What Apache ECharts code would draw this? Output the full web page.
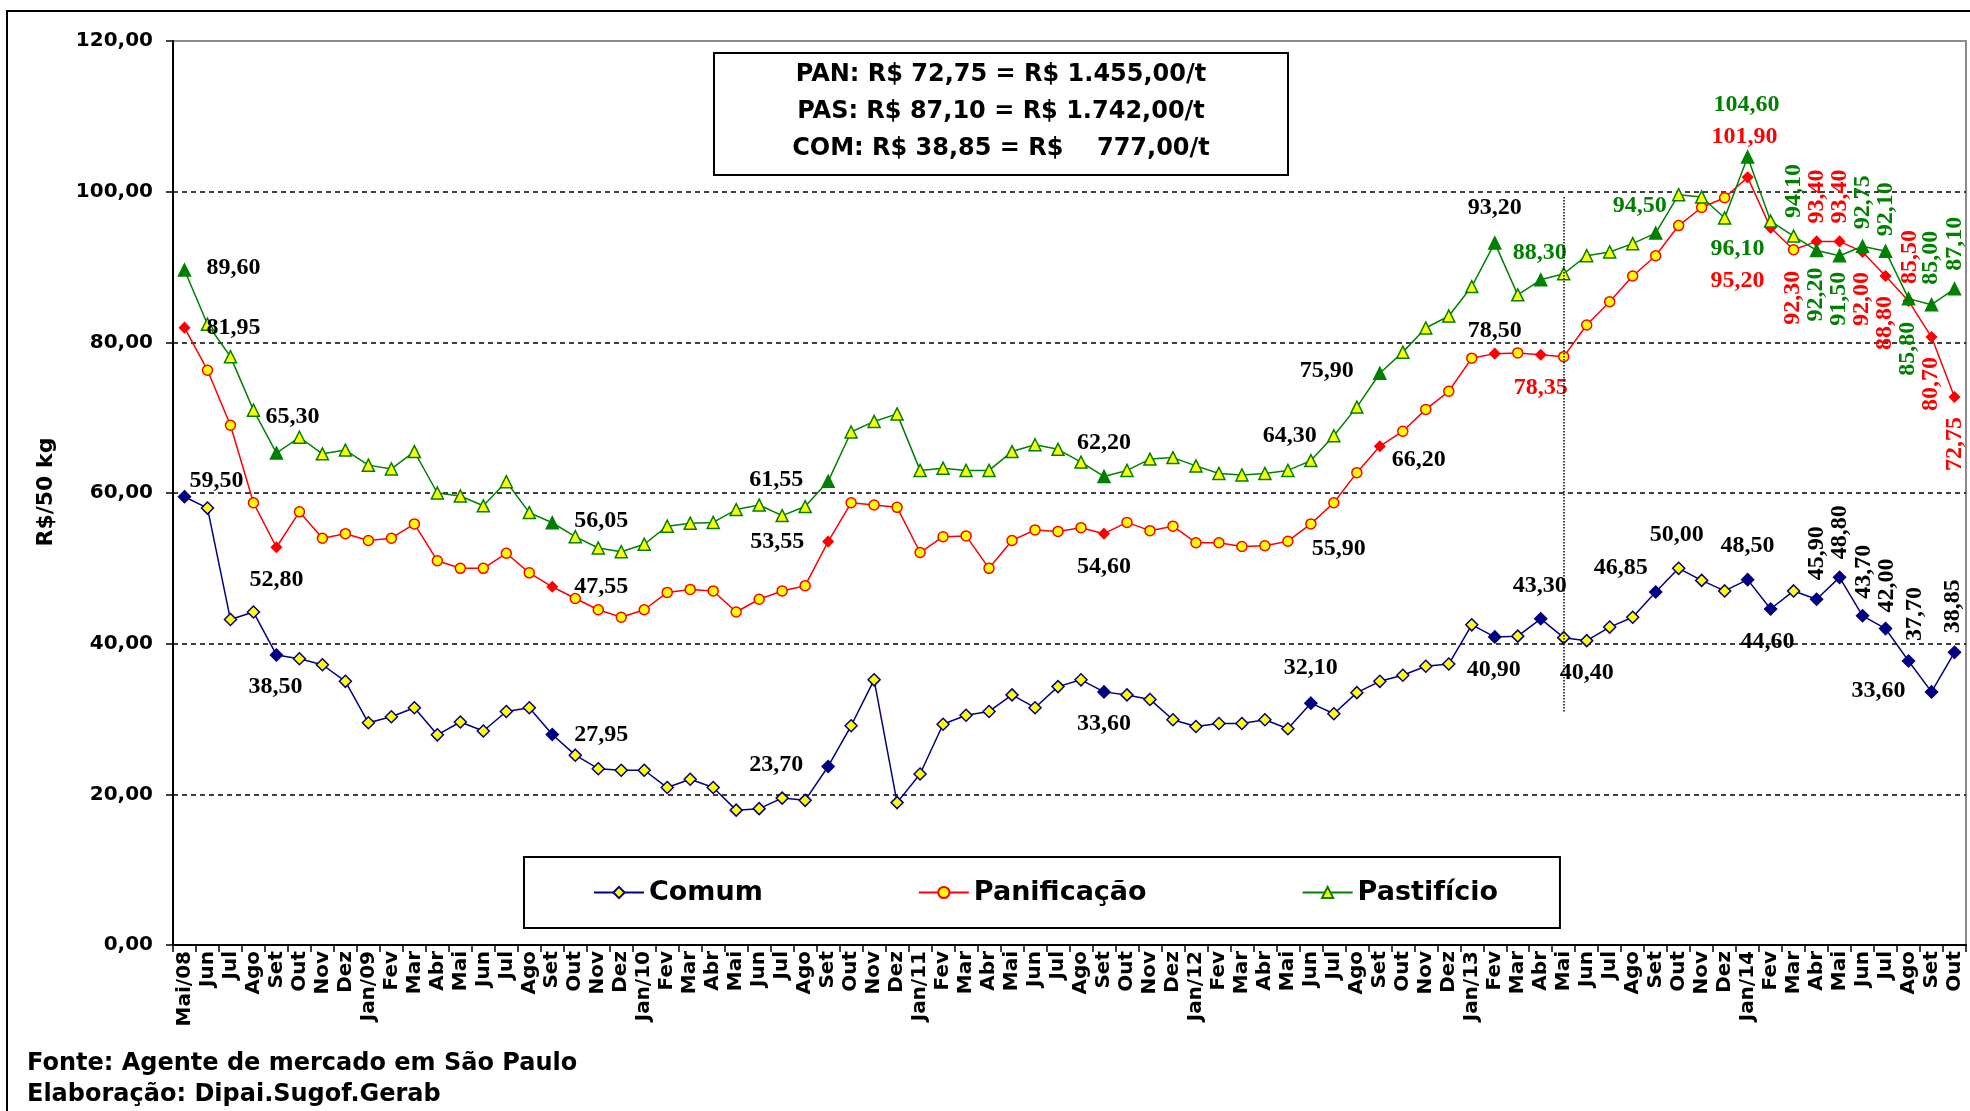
<!DOCTYPE html>
<html>
<head>
<meta charset="utf-8">
<title>Preços do trigo - São Paulo</title>
<script src="https://cdn.jsdelivr.net/npm/echarts@6/dist/echarts.min.js"></script>
<style>
  html, body { margin: 0; padding: 0; background: #ffffff; }
  #chart { width: 1970px; height: 1111px; }
</style>
</head>
<body>
<div id="chart"></div>
<script>
// eixo x: meses de Mai/08 a Out/14
const meses = [
  'Mai/08', 'Jun', 'Jul', 'Ago', 'Set', 'Out', 'Nov', 'Dez',
  'Jan/09', 'Fev', 'Mar', 'Abr', 'Mai', 'Jun', 'Jul', 'Ago', 'Set', 'Out', 'Nov', 'Dez',
  'Jan/10', 'Fev', 'Mar', 'Abr', 'Mai', 'Jun', 'Jul', 'Ago', 'Set', 'Out', 'Nov', 'Dez',
  'Jan/11', 'Fev', 'Mar', 'Abr', 'Mai', 'Jun', 'Jul', 'Ago', 'Set', 'Out', 'Nov', 'Dez',
  'Jan/12', 'Fev', 'Mar', 'Abr', 'Mai', 'Jun', 'Jul', 'Ago', 'Set', 'Out', 'Nov', 'Dez',
  'Jan/13', 'Fev', 'Mar', 'Abr', 'Mai', 'Jun', 'Jul', 'Ago', 'Set', 'Out', 'Nov', 'Dez',
  'Jan/14', 'Fev', 'Mar', 'Abr', 'Mai', 'Jun', 'Jul', 'Ago', 'Set', 'Out'
];

// R$/50 kg
const comum = [
  59.50, 58.00, 43.20, 44.20, 38.50, 38.00, 37.20, 35.00,
  29.50, 30.30, 31.50, 27.90, 29.60, 28.40, 31.00, 31.50, 27.95, 25.20, 23.40, 23.20,
  23.20, 20.90, 22.00, 20.90, 17.90, 18.10, 19.50, 19.20, 23.70, 29.10, 35.20, 18.90,
  22.70, 29.30, 30.50, 31.00, 33.20, 31.50, 34.30, 35.20, 33.60, 33.20, 32.60, 29.90,
  29.00, 29.40, 29.40, 29.90, 28.70, 32.10, 30.70, 33.50, 35.00, 35.80, 37.00, 37.30,
  42.50, 40.90, 41.00, 43.30, 40.80, 40.40, 42.20, 43.50, 46.85, 50.00, 48.40, 47.00,
  48.50, 44.60, 47.00, 45.90, 48.80, 43.70, 42.00, 37.70, 33.60, 38.85
];
const panificacao = [
  81.95, 76.30, 69.00, 58.70, 52.80, 57.50, 54.00, 54.60,
  53.70, 54.00, 55.90, 51.00, 50.00, 50.00, 52.00, 49.40, 47.55, 46.00, 44.50, 43.50,
  44.50, 46.80, 47.20, 47.00, 44.20, 45.90, 47.00, 47.70, 53.55, 58.70, 58.40, 58.10,
  52.10, 54.20, 54.30, 50.00, 53.70, 55.10, 54.90, 55.40, 54.60, 56.10, 55.00, 55.60,
  53.40, 53.40, 52.90, 53.00, 53.60, 55.90, 58.70, 62.70, 66.20, 68.20, 71.10, 73.50,
  77.90, 78.50, 78.60, 78.35, 78.10, 82.30, 85.40, 88.80, 91.50, 95.50, 97.90, 99.20,
  101.90, 95.20, 92.30, 93.40, 93.40, 92.00, 88.80, 85.50, 80.70, 72.75
];
const pastificio = [
  89.60, 82.40, 78.10, 71.00, 65.30, 67.40, 65.20, 65.70,
  63.70, 63.20, 65.50, 60.00, 59.60, 58.30, 61.50, 57.40, 56.05, 54.20, 52.70, 52.20,
  53.20, 55.60, 56.00, 56.10, 57.80, 58.40, 57.00, 58.20, 61.55, 68.10, 69.50, 70.50,
  63.00, 63.30, 63.00, 63.00, 65.50, 66.40, 65.80, 64.10, 62.20, 63.00, 64.50, 64.70,
  63.60, 62.60, 62.40, 62.60, 63.00, 64.30, 67.60, 71.40, 75.90, 78.70, 81.90, 83.50,
  87.40, 93.20, 86.30, 88.30, 89.10, 91.50, 92.00, 93.10, 94.50, 99.60, 99.30, 96.50,
  104.60, 96.10, 94.10, 92.20, 91.50, 92.75, 92.10, 85.80, 85.00, 87.10
];

const yTicks = [0, 20, 40, 60, 80, 100, 120];

// pontos em destaque (marcador cheio)
const destComum = [0, 4, 16, 28, 40, 49, 57, 59, 64, 68, 69, 71, 72, 73, 74, 75, 76, 77];
const destPan = [0, 4, 16, 28, 40, 52, 57, 59, 68, 69, 71, 72, 73, 74, 75, 76, 77];
const destPas = [0, 4, 16, 28, 40, 52, 57, 59, 64, 68, 71, 72, 73, 74, 75, 76, 77];

// rótulos: índice -> [dx, dy, rotação, cor]  (deslocamento do centro do texto)
const PRETO = '#000000', VERMELHO = '#ff0000', VERDE = '#008000';
const rotComum = {
  0: [32, -16], 4: [-1, 32], 16: [49, 0], 28: [-52, -2], 40: [0, 32], 49: [0, -35],
  57: [-1, 33], 59: [-1, -33], 61: [0, 32], 64: [-35, -24], 65: [-2, -34], 68: [0, -34],
  69: [-3, 33], 71: [0, -46, 90], 72: [0, -45, 90], 73: [1, -44, 90], 74: [1, -43, 90],
  75: [6, -47, 90], 76: [-53, -1], 77: [-2, -46, 90]
};
const rotPan = {
  0: [49, 0], 4: [0, 33], 16: [49, 0], 28: [-51, 0], 40: [0, 33], 49: [28, 25],
  52: [39, 14], 57: [0, -23], 59: [0, 33, 0, VERMELHO], 68: [-3, -41, 0, VERMELHO],
  69: [-33, 53, 0, VERMELHO], 70: [-1, 48, 90, VERMELHO], 71: [0, -45, 90, VERMELHO],
  72: [0, -45, 90, VERMELHO], 73: [-1, 47, 90, VERMELHO], 74: [-1, 47, 90, VERMELHO],
  75: [1, -44, 90, VERMELHO], 76: [-1, 47, 90, VERMELHO], 77: [0, 47, 90, VERMELHO]
};
const rotPas = {
  0: [49, -2], 4: [16, -36], 16: [49, -2], 28: [-52, -2], 40: [0, -34], 49: [-21, -25],
  52: [-53, -2], 57: [0, -35], 59: [-1, -27, 0, VERDE], 64: [-16, -27, 0, VERDE],
  68: [-1, -52, 0, VERDE], 69: [-33, 28, 0, VERDE], 70: [0, -45, 90, VERDE],
  71: [-1, 44, 90, VERDE], 72: [-1, 43, 90, VERDE], 73: [0, -44, 90, VERDE],
  74: [0, -42, 90, VERDE], 75: [-1, 50, 90, VERDE], 76: [-1, -47, 90, VERDE],
  77: [0, -45, 90, VERDE]
};

const fmt = (v) => v.toFixed(2).replace('.', ',');

function montaPontos(valores, cor, simboloCheio, destaques, rotulos) {
  return valores.map((v, i) => {
    const item = { value: v };
    if (destaques.includes(i)) {
      item.symbol = simboloCheio;
      item.itemStyle = { color: cor };
    }
    const r = rotulos[i];
    if (r) {
      const rot = r[2] || 0;
      // com rotação o deslocamento gira junto, em torno do ponto
      const offset = rot === 90 ? [-r[1], r[0]] : [r[0], r[1]];
      item.label = {
        show: true,
        position: 'inside',
        offset: offset,
        rotate: rot,
        color: r[3] || PRETO
      };
    }
    return item;
  });
}

const labelBase = {
  show: false,
  fontFamily: 'Liberation Serif',
  fontWeight: 'bold',
  fontSize: 24,
  formatter: (p) => fmt(p.value)
};

const chart = echarts.init(document.getElementById('chart'));

chart.setOption({
  animation: false,
  backgroundColor: '#ffffff',
  grid: {
    left: 173, right: 4, top: 41, bottom: 166,
    show: true, borderColor: '#8c8c8c', borderWidth: 2, backgroundColor: '#ffffff'
  },
  legend: {
    left: 524, top: 857,
    padding: [22, 62, 22, 69],
    itemGap: 155, itemWidth: 50, itemHeight: 14,
    borderColor: '#000000', borderWidth: 2, backgroundColor: '#ffffff',
    textStyle: { fontFamily: 'DejaVu Sans', fontWeight: 'bold', fontSize: 27, color: '#000000' },
    data: ['Comum', 'Panificação', 'Pastifício']
  },
  xAxis: {
    type: 'category',
    data: meses,
    boundaryGap: true,
    axisLine: { lineStyle: { color: '#000000', width: 2 } },
    axisTick: { show: true, interval: 0, length: 7, lineStyle: { color: '#000000', width: 1.5 } },
    axisLabel: {
      interval: 0, rotate: 90, margin: 6, color: '#000000',
      fontFamily: 'DejaVu Sans', fontWeight: 'bold', fontSize: 20
    },
    splitLine: { show: false }
  },
  yAxis: {
    type: 'value',
    min: yTicks[0], max: yTicks[yTicks.length - 1], interval: 20,
    axisLine: { show: true, lineStyle: { color: '#000000', width: 2 } },
    axisTick: { show: true, length: 7, lineStyle: { color: '#000000', width: 1.5 } },
    axisLabel: {
      margin: 20, color: '#000000',
      fontFamily: 'DejaVu Sans', fontWeight: 'bold', fontSize: 20,
      formatter: fmt
    },
    splitLine: {
      show: true, showMinLine: false, showMaxLine: false,
      lineStyle: { color: '#000000', width: 1.5, type: [5, 4] }
    }
  },
  series: [
    {
      name: 'Comum', type: 'line',
      data: montaPontos(comum, '#000080', 'diamond', destComum, rotComum),
      symbol: 'diamond', symbolSize: 12,
      lineStyle: { color: '#000080', width: 1.5 },
      itemStyle: { color: '#ffff00', borderColor: '#000080', borderWidth: 1.5 },
      label: labelBase,
      emphasis: { disabled: true },
      markLine: {
        silent: true, symbol: 'none', animation: false,
        label: { show: false },
        lineStyle: { color: '#000000', type: 'dotted', width: 1.5 },
        data: [[{ coord: [60, 99.3] }, { coord: [60, 30.8] }]]
      }
    },
    {
      name: 'Panificação', type: 'line',
      data: montaPontos(panificacao, '#ff0000', 'diamond', destPan, rotPan),
      symbol: 'circle', symbolSize: 10,
      lineStyle: { color: '#ff0000', width: 1.5 },
      itemStyle: { color: '#ffff00', borderColor: '#ff0000', borderWidth: 1.5 },
      label: labelBase,
      emphasis: { disabled: true }
    },
    {
      name: 'Pastifício', type: 'line',
      data: montaPontos(pastificio, '#008000', 'triangle', destPas, rotPas),
      symbol: 'triangle', symbolSize: 12,
      lineStyle: { color: '#008000', width: 1.5 },
      itemStyle: { color: '#ffff00', borderColor: '#008000', borderWidth: 1.5 },
      label: labelBase,
      emphasis: { disabled: true }
    }
  ],
  graphic: [
    {
      type: 'rect', silent: true, z: -10,
      shape: { x: 7, y: 11, width: 2000, height: 1200 },
      style: { fill: 'none', stroke: '#000000', lineWidth: 2 }
    },
    {
      type: 'rect', silent: true, z: 50,
      shape: { x: 714, y: 53, width: 574, height: 122 },
      style: { fill: '#ffffff', stroke: '#000000', lineWidth: 2 }
    },
    {
      type: 'text', silent: true, z: 51, x: 1001, y: 75,
      style: {
        text: 'PAN: R$ 72,75 = R$ 1.455,00/t', align: 'center', verticalAlign: 'middle',
        font: 'bold 24px "DejaVu Sans"', fill: '#000000'
      }
    },
    {
      type: 'text', silent: true, z: 51, x: 1001, y: 112,
      style: {
        text: 'PAS: R$ 87,10 = R$ 1.742,00/t', align: 'center', verticalAlign: 'middle',
        font: 'bold 24px "DejaVu Sans"', fill: '#000000'
      }
    },
    {
      type: 'text', silent: true, z: 51, x: 1001, y: 149,
      style: {
        text: 'COM: R$ 38,85 = R$    777,00/t', align: 'center', verticalAlign: 'middle',
        font: 'bold 24px "DejaVu Sans"', fill: '#000000'
      }
    },
    {
      type: 'text', silent: true, x: 46, y: 492, rotation: Math.PI / 2,
      style: {
        text: 'R$/50 kg', align: 'center', verticalAlign: 'middle',
        font: 'bold 22px "DejaVu Sans"', fill: '#000000'
      }
    },
    {
      type: 'text', silent: true, x: 27, y: 1064,
      style: {
        text: 'Fonte: Agente de mercado em São Paulo', align: 'left', verticalAlign: 'middle',
        font: 'bold 24px "DejaVu Sans"', fill: '#000000'
      }
    },
    {
      type: 'text', silent: true, x: 27, y: 1095,
      style: {
        text: 'Elaboração: Dipai.Sugof.Gerab', align: 'left', verticalAlign: 'middle',
        font: 'bold 24px "DejaVu Sans"', fill: '#000000'
      }
    }
  ]
});

window.addEventListener('resize', () => chart.resize());
</script>
</body>
</html>
